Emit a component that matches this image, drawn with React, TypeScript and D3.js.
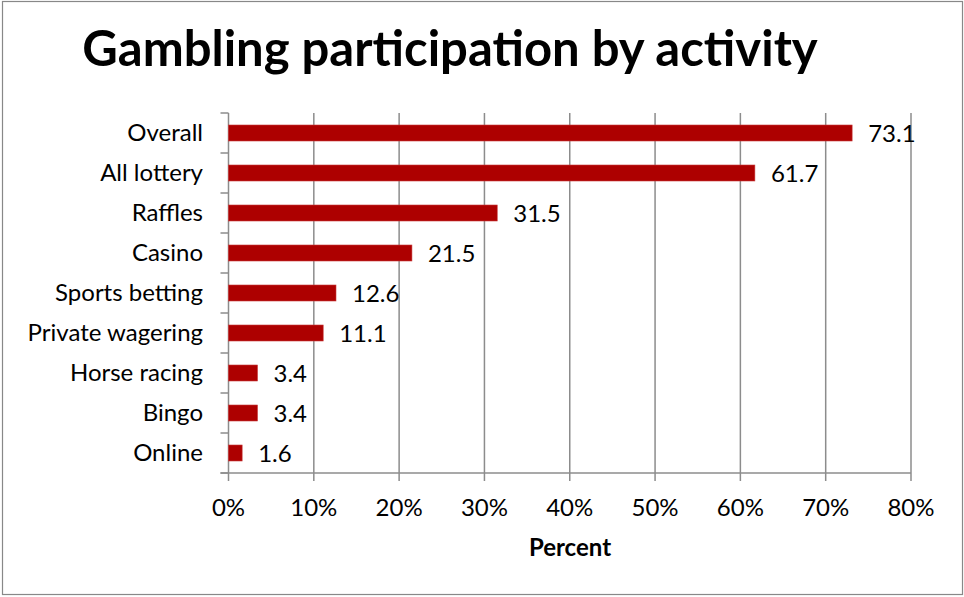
import React from "react";
import * as d3 from "d3";

const categories = ["Overall", "All lottery", "Raffles", "Casino", "Sports betting", "Private wagering", "Horse racing", "Bingo", "Online"];
const values = [73.1, 61.7, 31.5, 21.5, 12.6, 11.1, 3.4, 3.4, 1.6];
const xTicks = [0, 10, 20, 30, 40, 50, 60, 70, 80];

const W = 964, H = 597;
const left = 228.5, right = 911, top = 113, bottom = 473;
const FONT = "Lato, 'Open Sans', sans-serif";

export default function App() {
  const x = d3.scaleLinear().domain([0, 80]).range([left, right]);
  const y = d3.scaleBand().domain(categories).range([top, bottom]).paddingInner(0.6).paddingOuter(0.3);
  const step = (bottom - top) / categories.length;
  const grid = "#8c8c8c";
  return (
    <svg width={W} height={H} style={{ position: "absolute", left: 0, top: 0, background: "#fff" }}>
      <rect x={2.5} y={1.5} width={960} height={593} fill="#fff" stroke="#888" strokeWidth={1.2} />
      <text x={450} y={66} textAnchor="middle" fontFamily={FONT} fontWeight={700} fontSize={49} fill="#000">
        Gambling participation by activity
      </text>
      {xTicks.map((t) => (
        <g key={t}>
          <line x1={x(t)} x2={x(t)} y1={top} y2={bottom + 8} stroke={grid} strokeWidth={1.5} />
          <text x={x(t)} y={516} textAnchor="middle" fontFamily={FONT} fontSize={24} fill="#000">{t}%</text>
        </g>
      ))}
      <line x1={left - 8} x2={right} y1={bottom} y2={bottom} stroke={grid} strokeWidth={1.5} />
      {d3.range(categories.length + 1).map((i) => (
        <line key={i} x1={left - 8} x2={left} y1={top + i * step} y2={top + i * step} stroke={grid} strokeWidth={1.5} />
      ))}
      {categories.map((c, i) => (
        <g key={c}>
          <rect x={x(0)} y={y(c)!} width={x(values[i]) - x(0)} height={y.bandwidth()} fill="#ad0000" stroke="#c83a3a" strokeWidth={0.6} />
          <text x={203} y={y(c)! + y.bandwidth() / 2 + 8} textAnchor="end" fontFamily={FONT} fontSize={24} fill="#000">{c}</text>
          <text x={x(values[i]) + 16} y={y(c)! + y.bandwidth() / 2 + 9} fontFamily={FONT} fontSize={24} fill="#000">{values[i].toFixed(1)}</text>
        </g>
      ))}
      <text x={570} y={556} textAnchor="middle" fontFamily={FONT} fontWeight={700} fontSize={24} fill="#000">Percent</text>
    </svg>
  );
}
